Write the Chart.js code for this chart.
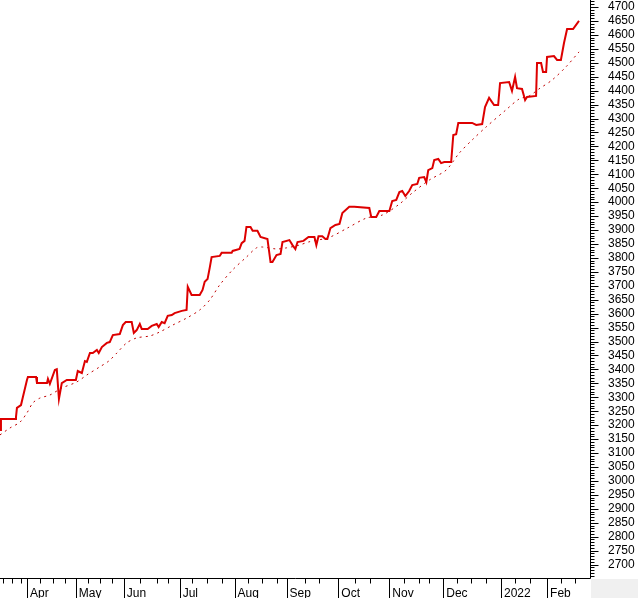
<!DOCTYPE html>
<html><head><meta charset="utf-8">
<script src="https://cdn.jsdelivr.net/npm/chart.js@4"></script>
<style>html,body{margin:0;padding:0;background:#fff;overflow:hidden}#wrap{width:638px;height:598px;position:relative}</style>
</head><body><div id="wrap"><canvas id="c" width="638" height="598"></canvas></div>
<script>
// trading-day index (0 = left edge of the chart) and closing values
const priceDays = [0,0.4,6.3,6.7,7.1,8.8,9.6,11.3,11.7,15.1,15.5,19.7,20.1,20.9,23.0,23.8,24.7,25.9,28.0,31.8,32.6,34.3,35.6,36.4,37.7,38.9,40.6,41.4,42.7,44.8,46.0,47.3,50.2,51.5,52.7,55.2,56.1,57.3,58.6,59.4,61.9,63.6,65.7,66.5,67.8,69.0,70.3,72.0,73.2,76.2,78.2,78.7,80.3,83.7,84.9,85.8,87.0,87.9,88.7,92.1,92.9,97.1,97.5,100.4,101.3,102.5,103.3,105.0,105.9,107.9,109.2,112.1,113.4,114.2,115.9,117.6,118.4,121.3,122.6,123.8,124.7,127.2,129.3,131.8,132.6,133.5,135.1,136.4,137.2,138.5,140.6,142.3,143.5,146.4,148.5,154.8,155.6,157.7,159.0,163.2,164.4,166.1,167.4,168.6,169.9,171.5,172.8,174.9,175.7,177.8,178.7,179.5,181.2,182.0,183.7,184.9,186.2,189.1,190.0,191.2,192.1,197.9,199.6,202.1,203.3,205.0,207.1,208.8,209.6,213.4,214.6,215.9,216.7,218.8,220.1,220.9,224.7,225.1,226.8,227.6,228.9,229.3,232.2,233.5,235.1,236.4,237.7,240.2,242.3,242.7];
const priceValues = [3183,3222,3222,3229,3262,3272,3301,3362,3373,3373,3351,3351,3366,3348,3398,3401,3294,3351,3362,3362,3394,3387,3430,3427,3459,3459,3470,3459,3480,3495,3498,3523,3527,3559,3570,3570,3531,3541,3563,3545,3545,3556,3563,3552,3570,3566,3592,3595,3602,3610,3613,3696,3667,3667,3685,3714,3724,3764,3803,3807,3818,3818,3825,3832,3853,3861,3911,3911,3897,3897,3875,3868,3785,3785,3810,3814,3857,3864,3846,3832,3857,3861,3875,3875,3846,3878,3878,3868,3868,3907,3918,3922,3961,3983,3983,3979,3947,3947,3968,3968,4004,4008,4036,4040,4022,4040,4061,4065,4087,4090,4072,4115,4122,4151,4155,4140,4144,4144,4241,4244,4284,4284,4277,4280,4341,4374,4348,4348,4427,4431,4399,4449,4409,4406,4366,4377,4381,4499,4499,4467,4467,4521,4524,4510,4510,4571,4621,4621,4646,4650];
// moving average (dotted)
const maDays = [0,4.2,8.4,11.3,13.8,16.7,20.9,25.9,32.2,36.4,41.8,45.6,49.0,53.1,57.3,62.8,66.9,72.4,78.2,83.7,87.9,92.1,97.5,103.3,107.5,110.0,115.9,120.1,125.5,129.3,138.1,145.6,153.6,160.3,167.4,172.8,179.9,187.0,192.5,197.9,203.8,212.1,217.6,221.8,225.9,231.4,237.2,242.7];
const maValues = [3165,3190,3211,3244,3280,3297,3308,3333,3355,3380,3409,3430,3459,3495,3513,3520,3534,3559,3584,3613,3649,3703,3757,3803,3836,3839,3832,3836,3846,3857,3874,3907,3943,3954,3993,4033,4079,4115,4176,4223,4270,4331,4370,4381,4406,4438,4485,4539];
// x axis: month labels and their first trading-day index
const monthLabels = ['Apr','May','Jun','Jul','Aug','Sep','Oct','Nov','Dec','2022','Feb'];
const monthDays = [11.3,31.8,51.9,75.3,98.3,120.1,141.8,163.2,185.8,210.0,229.3];
const weekDays = [1.3,5.0,8.8,16.7,22.2,27.2,36.8,41.8,46.9,58.6,65.7,70.3,80.3,86.6,92.9,103.8,110.0,115.9,128.0,133.9,149.0,155.0,169.5,175.5,180.0,191.5,197.5,203.5,216.0,222.0,235.0,241.0];
// y axis range and ticks
const yMin = 2651.7, yMax = 4725.1, xMax = 247.3;
const yTickStart = 2660, yTickEnd = 4720, yMinorStep = 10, yLabelStep = 50;

const toPts = (xs, ys) => xs.map((d, i) => ({x: d, y: ys[i]}));
const FONT = {family: "'Liberation Sans', Arial, sans-serif", size: 12};

const axisDeco = {
  id: 'axisDeco',
  beforeDraw(chart) {
    const {ctx, chartArea: a} = chart;
    ctx.save();
    ctx.fillStyle = '#f0f0f0';
    ctx.fillRect(a.right + 1, a.bottom + 1, chart.width - a.right, chart.height - a.bottom);
    ctx.restore();
  },
  afterDraw(chart) {
    const {ctx, chartArea: a, scales: {x, y}} = chart;
    ctx.save();
    ctx.strokeStyle = '#000';
    ctx.lineWidth = 1;
    ctx.beginPath();
    const ax = Math.round(a.right) + 0.5;
    const by = Math.round(a.bottom) + 0.5;
    ctx.moveTo(ax, 0); ctx.lineTo(ax, by);
    ctx.moveTo(0, by); ctx.lineTo(ax, by);
    for (let v = yTickStart; v <= yTickEnd; v += yMinorStep) {
      const py = Math.round(y.getPixelForValue(v)) + 0.5;
      ctx.moveTo(ax, py); ctx.lineTo(ax + (v % yLabelStep === 0 ? 8 : 4), py);
    }
    monthDays.forEach(d => { const px = Math.round(x.getPixelForValue(d)) + 0.5; ctx.moveTo(px, by); ctx.lineTo(px, chart.height); });
    weekDays.forEach(d => { const px = Math.round(x.getPixelForValue(d)) + 0.5; ctx.moveTo(px, by); ctx.lineTo(px, by + 5); });
    ctx.stroke();
    ctx.restore();
  }
};

new Chart(document.getElementById('c'), {
  type: 'line',
  data: {
    datasets: [
      {data: toPts(priceDays, priceValues), borderColor: '#dd0000', borderWidth: 2, pointRadius: 0, tension: 0, fill: false, order: 1},
      {data: toPts(maDays, maValues), borderColor: '#c00000', borderWidth: 1, borderDash: [2, 4], pointRadius: 0, tension: 0.3, fill: false, order: 2}
    ]
  },
  options: {
    responsive: false, animation: false, devicePixelRatio: 1,
    layout: {padding: 0},
    plugins: {legend: {display: false}, tooltip: {enabled: false}},
    scales: {
      x: {
        type: 'linear', min: 0, max: xMax,
        grid: {display: false}, border: {display: false},
        afterBuildTicks: s => { s.ticks = monthDays.map(v => ({value: v})); },
        afterFit: s => { s.height = 20; s.paddingLeft = 0; s.paddingRight = 0; s.paddingTop = 0; s.paddingBottom = 0; },
        ticks: {autoSkip: false, maxRotation: 0, align: 'start', labelOffset: 3, padding: 0, color: '#000', font: FONT,
          callback: (v, i) => monthLabels[i]}
      },
      y: {
        type: 'linear', position: 'right', min: yMin, max: yMax,
        grid: {display: false, drawTicks: false}, border: {display: false},
        afterBuildTicks: s => { const t = []; for (let v = yTickStart; v <= yTickEnd; v += yMinorStep) t.push({value: v}); s.ticks = t; },
        afterFit: s => { s.width = 48; s.paddingTop = 0; s.paddingBottom = 0; s.paddingLeft = 0; s.paddingRight = 0; },
        ticks: {autoSkip: false, padding: 18, color: '#000', font: FONT,
          callback: v => (v % yLabelStep === 0 ? String(v) : '')}
      }
    }
  },
  plugins: [axisDeco]
});
</script>
</body></html>
